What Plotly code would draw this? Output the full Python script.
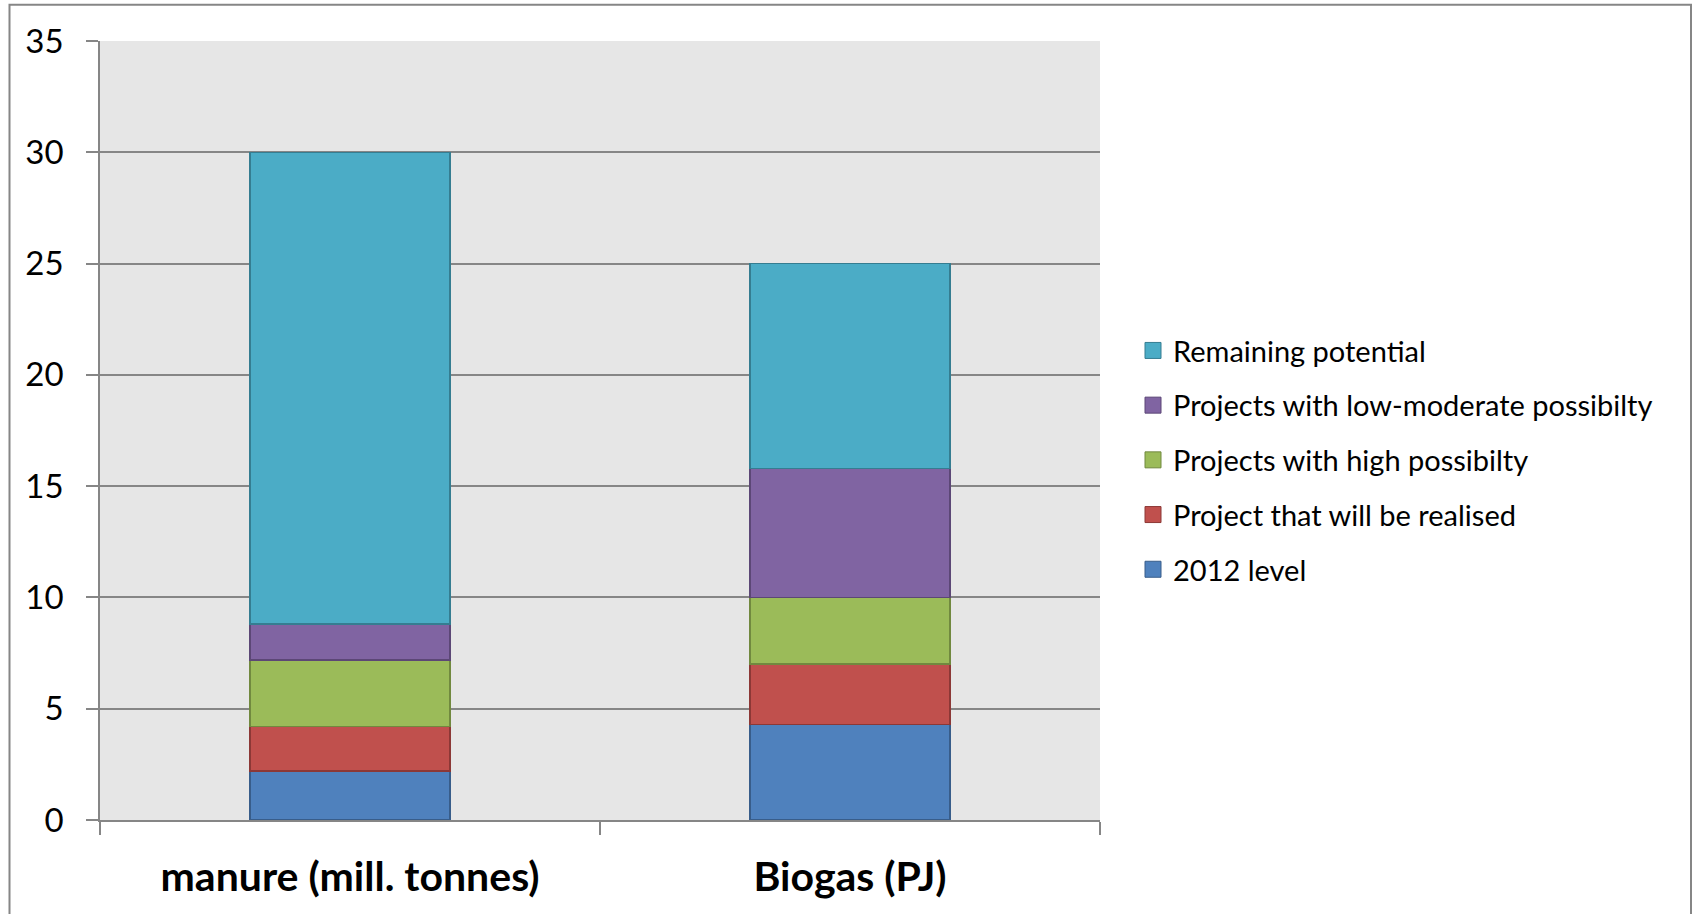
import plotly.graph_objects as go

categories = ["manure (mill. tonnes)", "Biogas (PJ)"]
series_names = [
    "2012 level",
    "Project that will be realised",
    "Projects with high possibilty",
    "Projects with low-moderate possibilty",
    "Remaining potential",
]
level_2012 = [2.2, 4.3]
realised = [2.0, 2.7]
high_possibility = [3.0, 3.0]
low_moderate = [1.6, 5.8]
remaining = [21.2, 9.2]
series_values = [level_2012, realised, high_possibility, low_moderate, remaining]

fills = ["#4F81BD", "#C0504D", "#9BBB59", "#8064A2", "#4BACC6"]
edges = ["#385D8A", "#8C3836", "#71893F", "#5C4776", "#357D91"]

FONT = "Lato"
GRID = "#868686"

fig = go.Figure()
n = len(series_names)
for i, (name, vals, fc, ec) in enumerate(zip(series_names, series_values, fills, edges)):
    fig.add_trace(go.Bar(
        x=categories, y=vals, name=name, legendgroup=name, showlegend=False,
        legendrank=n - i,
        marker=dict(color=fc, line=dict(color=ec, width=1.5)),
    ))
    fig.add_trace(go.Scatter(
        x=[None], y=[None], name=name, legendgroup=name, mode="markers",
        legendrank=n - i,
        marker=dict(symbol="square", size=16, color=fc, line=dict(color=ec, width=1)),
    ))

fig.update_layout(
    width=1692, height=914, autosize=False,
    margin=dict(l=100, r=592, t=41, b=94),
    barmode="stack", bargap=0.6,
    plot_bgcolor="#E6E6E6", paper_bgcolor="white",
    font=dict(family=FONT, color="black"),
    legend=dict(
        x=1.033, xanchor="left", y=0.462, yanchor="middle",
        traceorder="grouped", tracegroupgap=14,
        font=dict(family=FONT, size=29, color="black"),
        itemclick=False, itemdoubleclick=False,
    ),
    xaxis=dict(
        type="category", tickson="boundaries", ticks="outside", ticklen=13,
        tickcolor=GRID, tickwidth=1.5, showline=True, linecolor=GRID, linewidth=1.5,
        tickfont=dict(family=FONT, size=41, color="black", weight="bold"),
        ticklabelstandoff=20, showgrid=False,
    ),
    yaxis=dict(
        range=[0, 35], dtick=5, tick0=0, showgrid=True, gridcolor=GRID, gridwidth=1.5,
        ticks="outside", ticklen=12, tickcolor=GRID, tickwidth=1.5,
        showline=True, linecolor=GRID, linewidth=1.5, zeroline=False,
        tickfont=dict(family=FONT, size=33, color="black"),
        ticklabelstandoff=16,
    ),
    shapes=[dict(
        type="rect", xref="paper", yref="paper",
        x0=-0.0905, x1=1.591, y0=-0.2, y1=1.0466,
        line=dict(color=GRID, width=2), fillcolor="rgba(0,0,0,0)", layer="above",
    )],
)

fig.write_html("out.html")
